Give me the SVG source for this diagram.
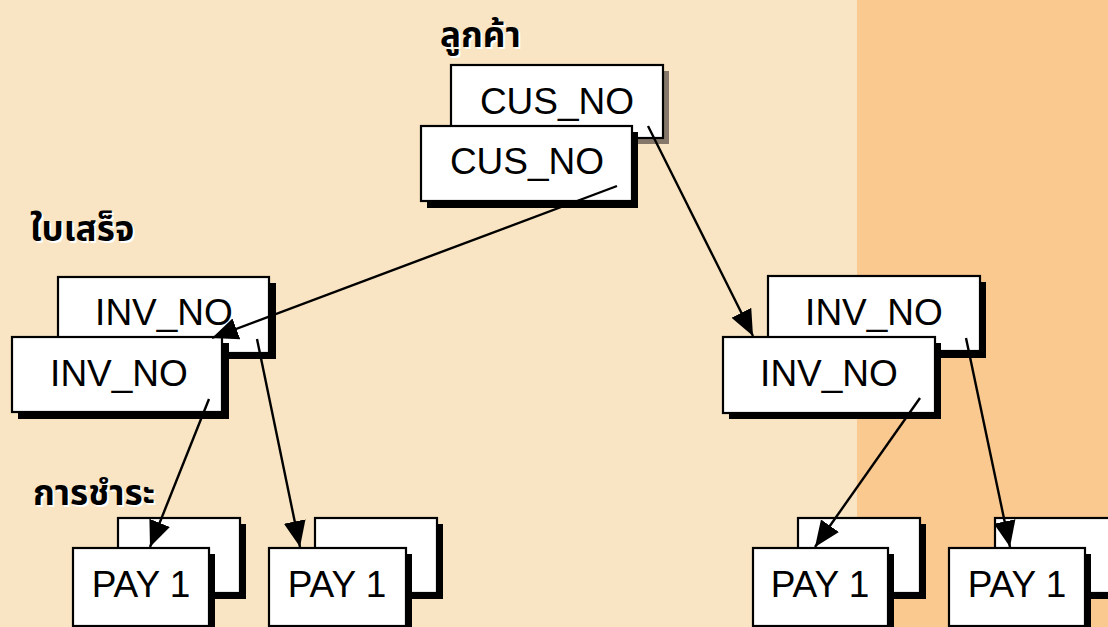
<svg xmlns="http://www.w3.org/2000/svg" width="1108" height="627" viewBox="0 0 1108 627">
<defs>
<style>
.box{fill:#fff;stroke:#000;stroke-width:2.2}
.sh{fill:#000}
.shg{fill:#85786a}
.t{font-family:"Liberation Sans",Arial,sans-serif;font-size:37px;fill:#000;text-anchor:middle}
.th{font-family:"Noto Sans Thai","Noto Sans","DejaVu Sans",sans-serif;font-weight:bold;font-size:35px;fill:#000}
.thg{font-family:"Noto Sans Thai","Noto Sans","DejaVu Sans",sans-serif;font-weight:bold;font-size:35px;fill:#fff}
.c{stroke:#000;stroke-width:2.4;fill:none;marker-end:url(#ah)}
</style>
<marker id="ah" markerUnits="userSpaceOnUse" markerWidth="28" markerHeight="24" refX="26" refY="11" orient="auto" viewBox="0 0 28 22">
<path d="M0,0 L26,11 L0,22 z" fill="#000"/>
</marker>
</defs>
<rect x="0" y="0" width="1108" height="627" fill="#f9e5c3"/>
<rect x="857" y="0" width="251" height="627" fill="#f9c98f"/>

<g id="label-customer">
<text class="thg" x="442" y="49">ลูกค้า</text>
<text class="th" x="440" y="47">ลูกค้า</text>
</g>
<g id="label-receipt">
<text class="thg" x="32" y="243">ใบเสร็จ</text>
<text class="th" x="30" y="241">ใบเสร็จ</text>
</g>
<g id="label-payment">
<text class="thg" x="35" y="507">การชำระ</text>
<text class="th" x="33" y="505">การชำระ</text>
</g>

<g id="cus-back">
<rect class="shg" x="457" y="71" width="212" height="73"/>
<rect class="box" x="451" y="65" width="212" height="73"/>
<text class="t" x="557" y="114">CUS_NO</text>
</g>
<g id="cus-front">
<rect class="sh" x="427" y="132" width="211" height="76"/>
<rect class="box" x="421" y="126" width="211" height="75"/>
<text class="t" x="527" y="174">CUS_NO</text>
</g>

<g id="inv-left-back">
<rect class="sh" x="64" y="283" width="212" height="76"/>
<rect class="box" x="58" y="277" width="211" height="76"/>
<text class="t" x="164" y="325">INV_NO</text>
</g>
<g id="inv-left-front">
<rect class="sh" x="18" y="343" width="211" height="76"/>
<rect class="box" x="12" y="337" width="210" height="75"/>
<text class="t" x="119" y="386">INV_NO</text>
</g>

<g id="inv-right-back">
<rect class="sh" x="774" y="282" width="212" height="76"/>
<rect class="box" x="768" y="276" width="212" height="75"/>
<text class="t" x="874" y="325">INV_NO</text>
</g>
<g id="inv-right-front">
<rect class="sh" x="729" y="343" width="212" height="76"/>
<rect class="box" x="723" y="337" width="212" height="76"/>
<text class="t" x="829" y="386">INV_NO</text>
</g>

<g id="pay-1-back">
<rect class="sh" x="124" y="524" width="122" height="75"/>
<rect class="box" x="118" y="518" width="122" height="75"/>
</g>
<g id="pay-1-front">
<rect class="sh" x="79" y="554" width="136" height="77"/>
<rect class="box" x="73" y="548" width="136" height="78"/>
<text class="t" x="141" y="597">PAY 1</text>
</g>
<g id="pay-2-back">
<rect class="sh" x="321" y="524" width="122" height="75"/>
<rect class="box" x="315" y="518" width="122" height="75"/>
</g>
<g id="pay-2-front">
<rect class="sh" x="275" y="554" width="137" height="77"/>
<rect class="box" x="269" y="548" width="137" height="78"/>
<text class="t" x="337" y="597">PAY 1</text>
</g>
<g id="pay-3-back">
<rect class="sh" x="804" y="524" width="122" height="75"/>
<rect class="box" x="798" y="518" width="122" height="75"/>
</g>
<g id="pay-3-front">
<rect class="sh" x="759" y="554" width="135" height="77"/>
<rect class="box" x="753" y="548" width="135" height="78"/>
<text class="t" x="820" y="597">PAY 1</text>
</g>
<g id="pay-4-back">
<rect class="sh" x="1001" y="524" width="122" height="75"/>
<rect class="box" x="995" y="518" width="122" height="75"/>
</g>
<g id="pay-4-front">
<rect class="sh" x="955" y="554" width="136" height="77"/>
<rect class="box" x="949" y="548" width="136" height="78"/>
<text class="t" x="1017" y="597">PAY 1</text>
</g>

<g id="connectors">
<line class="c" x1="617" y1="186" x2="212" y2="338"/>
<line class="c" x1="648" y1="126" x2="753" y2="336"/>
<line class="c" x1="257" y1="339" x2="300" y2="547"/>
<line class="c" x1="209" y1="399" x2="150" y2="547"/>
<line class="c" x1="920" y1="398" x2="815" y2="547"/>
<line class="c" x1="966" y1="338" x2="1010" y2="547"/>
</g>
</svg>
